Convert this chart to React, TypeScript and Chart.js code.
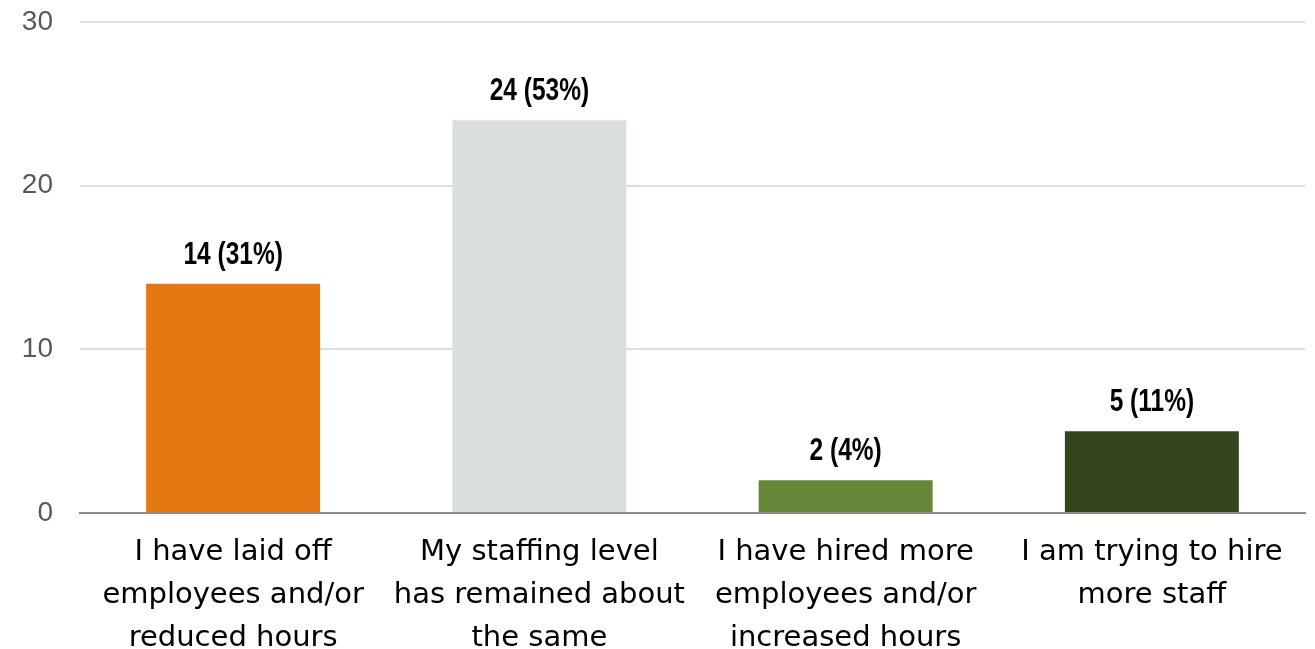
import React, { useEffect, useRef } from "react";
import { Chart, registerables } from "chart.js";

Chart.register(...registerables);

const categories: string[][] = [
  ["I have laid off", "employees and/or", "reduced hours"],
  ["My staffing level", "has remained about", "the same"],
  ["I have hired more", "employees and/or", "increased hours"],
  ["I am trying to hire", "more staff"],
];
const counts: number[] = [14, 24, 2, 5];
const percents: number[] = [31, 53, 4, 11];
const barColors: string[] = ["#E57811", "#D9DFDB", "#668737", "#35461F"];
const yTicks = { min: 0, max: 30, step: 10 };

const labelPlugin = {
  id: "barValueLabels",
  afterDatasetsDraw(chart: any) {
    const ctx = chart.ctx;
    const meta = chart.getDatasetMeta(0);
    ctx.save();
    ctx.font = "bold 31px 'Liberation Sans', Arial, sans-serif";
    ctx.fillStyle = "#000000";
    ctx.textAlign = "center";
    ctx.textBaseline = "alphabetic";
    meta.data.forEach((bar: any, i: number) => {
      const text = `${counts[i]} (${percents[i]}%)`;
      ctx.save();
      ctx.translate(bar.x, bar.y - 20);
      ctx.scale(0.79, 1);
      ctx.fillText(text, 0, 0);
      ctx.restore();
    });
    ctx.restore();
  },
};

export default function App() {
  const canvasRef = useRef<HTMLCanvasElement | null>(null);

  useEffect(() => {
    if (!canvasRef.current) return;
    const chart = new Chart(canvasRef.current, {
      type: "bar",
      data: {
        labels: categories,
        datasets: [
          {
            data: counts,
            backgroundColor: barColors,
            borderWidth: 0,
            barPercentage: 0.568,
            categoryPercentage: 1,
          },
        ],
      },
      options: {
        animation: false,
        responsive: true,
        maintainAspectRatio: false,
        layout: { padding: { top: 22, right: 10, left: 0, bottom: 0 } },
        plugins: {
          legend: { display: false },
          tooltip: { enabled: false },
          title: { display: false },
        },
        scales: {
          x: {
            grid: { display: false, drawTicks: false },
            border: { display: true, color: "#8C8C8C", width: 2 },
            ticks: {
              color: "#000000",
              padding: 18,
              maxRotation: 0,
              minRotation: 0,
              autoSkip: false,
              font: { family: "'DejaVu Sans', sans-serif", size: 29, lineHeight: 1.48 },
            },
            afterFit(scale: any) {
              scale.height = 136;
            },
          },
          y: {
            min: yTicks.min,
            max: yTicks.max,
            grid: {
              color: "#DCDCDC",
              lineWidth: 2,
              drawTicks: true,
              tickLength: 27,
              tickColor: "rgba(0,0,0,0)",
            },
            border: { display: false },
            ticks: {
              stepSize: yTicks.step,
              color: "#595959",
              padding: 0,
              font: { family: "'Liberation Sans', Arial, sans-serif", size: 28 },
            },
            afterFit(scale: any) {
              scale.width = 80;
            },
          },
        },
      },
      plugins: [labelPlugin],
    });
    return () => chart.destroy();
  }, []);

  return (
    <div
      style={{
        position: "fixed",
        left: 0,
        top: 0,
        width: 1315,
        height: 649,
        background: "#ffffff",
      }}
    >
      <canvas ref={canvasRef} />
    </div>
  );
}
